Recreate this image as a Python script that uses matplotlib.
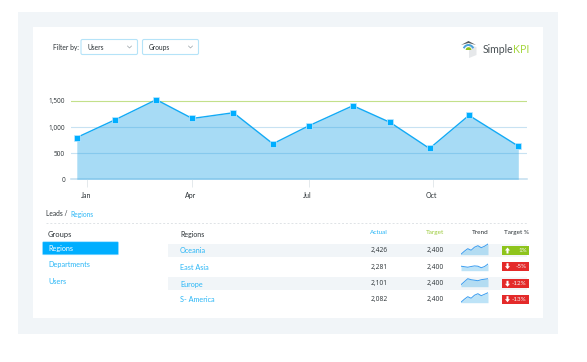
import matplotlib
matplotlib.use('Agg')
import matplotlib.pyplot as plt
from matplotlib.patches import Rectangle, FancyBboxPatch, Polygon, Wedge
from matplotlib.transforms import ScaledTranslation

plt.rcParams['font.family'] = 'Lato'
NUM_FONT = 'Open Sans'

W, H = 587, 362

# main chart, x in days from the Jan tick
days = [-9, 24, 59.5, 90.5, 126, 160, 191, 229, 261, 295, 329, 371.5]
leads = [800, 1140, 1525, 1165, 1275, 680, 1025, 1410, 1090, 590, 1225, 635]
y_ticks = [0, 500, 1000, 1500]
y_labels = ['0', '500', '1,000', '1,500']
month_days = [0, 90.5, 191, 298]
month_names = ['Jan', 'Apr', 'Jul', 'Oct']

# table
groups = ['Regions', 'Departments', 'Users']
regions = ['Oceania', 'East Asia', 'Europe', 'S- America']
actual = ['2,426', '2,281', '2,101', '2,082']
target = ['2,400', '2,400', '2,400', '2,400']
target_pct = ['1%', '-5%', '-12%', '-13%']
trend = [
    [0.5, 3.5, 6, 4.5, 7.5, 9, 7, 8.5, 10.7],
    [4.5, 4, 3.5, 4.2, 4.8, 4.5, 3, 4.2, 6.7],
    [2, 5, 8, 7, 6.5, 6, 7, 7.5, 8],
    [0.5, 3.5, 6, 4.5, 7.5, 9, 7, 8.5, 10],
]

BLUE = '#00aeff'
GREEN_TXT = '#9ccb3b'
DARK = '#2b3236'
row_y = [250.5, 267.5, 284, 299.5]
badge_top = [246, 261.7, 279.3, 294.7]
spark_base = [254.7, 270.7, 286.7, 302.7]
spark_h = 12


def px_axes(x0, y0, x1, y1, **kw):
    return fig.add_axes([x0/W, 1-y1/H, (x1-x0)/W, (y1-y0)/H], **kw)


fig = plt.figure(figsize=(W/100, H/100), dpi=100, facecolor='white')

bg = fig.add_axes([0, 0, 1, 1])
bg.set_xlim(0, W)
bg.set_ylim(H, 0)
bg.axis('off')
bg.add_patch(Rectangle((18, 12), 540, 322, fc='#f1f5f8', ec='none'))
bg.add_patch(Rectangle((33, 27), 510, 291, fc='white', ec='none'))

# filter bar
bg.text(52.7, 47.5, 'Filter by:', fontsize=4.8, color=DARK, va='center')
for x0, x1, name in [(81, 137.5, 'Users'), (142.5, 198.5, 'Groups')]:
    bg.add_patch(FancyBboxPatch((x0, 39.5), x1-x0, 15, boxstyle='round,pad=0,rounding_size=1.5',
                                fc='white', ec='#b5e3f8', lw=0.8))
    bg.text(x0+6, 47.5, name, fontsize=4.8, color=DARK, va='center')
    bg.plot([x1-10, x1-8, x1-6], [46, 48, 46], color='#9aa3a8', lw=0.5)

# logo
bg.add_patch(Polygon([(469, 45), (476.5, 47), (476.5, 55), (469, 58)], fc='#e6e8ea', ec='none'))
bg.add_patch(Polygon([(461, 45), (468.5, 41), (476, 45), (468.5, 43)], fc='#555c60', ec='none'))
bg.add_patch(Wedge((468.5, 50), 6, 200, 340, width=2, fc='#4aa3dc', ec='none'))
bg.add_patch(Wedge((468.5, 50), 2.8, 180, 360, fc='#8ec41c', ec='none'))
bg.text(482.5, 49.5, 'Simple', fontsize=7.6, color='#4a5155', va='center')
bg.text(512.5, 49.5, 'KPI', fontsize=7.6, color='#a5d63f', va='center')

# area chart
ax = px_axes(71, 84, 527, 179.3)
ax.set_xlim(-14, 379)
ax.set_ylim(0, 1825)
ax.patch.set_alpha(0)
for s in ax.spines.values():
    s.set_visible(False)
ax.axhline(1500, color='#c3e08a', lw=0.8, zorder=1)
ax.axhline(1000, color='#c8e2f2', lw=0.8, zorder=1)
ax.axhline(500, color='#c8e2f2', lw=0.8, zorder=1)
ax.axhline(0, color='#c2deef', lw=1.1, zorder=1, clip_on=False)
ax.fill_between(days, leads, 0, color='#25a5e6', alpha=0.4, lw=0, zorder=2)
ax.plot(days, leads, color='#12aaf5', lw=1, marker='s', ms=4.2, mfc=BLUE, mec='#bfe8ff', mew=0.5, zorder=3, clip_on=False)
ax.set_yticks(y_ticks, y_labels, fontsize=4.7, color=DARK, family=NUM_FONT)
ax.set_xticks(month_days, month_names, fontsize=5, color=DARK)
ax.tick_params(axis='y', length=0, pad=4.2)
ax.tick_params(axis='x', length=5.8, width=0.7, color='#e4e9ec', pad=3.6)
# month labels sit a little left of their ticks
for lab in ax.get_xticklabels():
    lab.set_transform(lab.get_transform() + ScaledTranslation(-1.5/100, 0, fig.dpi_scale_trans))

# table header
bg.text(46.5, 214, 'Leads /', fontsize=4.8, color=DARK, va='center')
bg.text(70, 214, 'Regions', fontsize=4.8, color='#29b6f6', va='center')
bg.plot([46, 527], [223.3, 223.3], color='#dfe3e6', lw=0.7, ls=(0, (2, 2)))
bg.text(48, 234.3, 'Groups', fontsize=5.4, color=DARK, va='center')
bg.text(180, 234.3, 'Regions', fontsize=5, color=DARK, va='center')
bg.text(379, 232.7, 'Actual', fontsize=4.6, color='#29b6f6', va='center', ha='center')
bg.text(435, 232.7, 'Target', fontsize=4.6, color=GREEN_TXT, va='center', ha='center')
bg.text(480, 232.7, 'Trend', fontsize=4.6, color=DARK, va='center', ha='center')
bg.text(516, 232.7, 'Target %', fontsize=4.6, color=DARK, va='center', ha='center')

# groups list
bg.add_patch(FancyBboxPatch((42.5, 241.8), 76, 13, boxstyle='round,pad=0,rounding_size=1', fc=BLUE, ec='#9fe0ff', lw=0.4))
group_y = [248.3, 265, 282]
for i, name in enumerate(groups):
    bg.text(48, group_y[i], name, fontsize=5.2, color='white' if i == 0 else '#29b6f6', va='center')

# table rows
for top in [244, 276.7]:
    bg.add_patch(Rectangle((168, top), 359, 13, fc='#f1f5f8', ec='none'))
for i, name in enumerate(regions):
    y = row_y[i]
    bg.text(180, y, name, fontsize=5.2, color='#29b6f6', va='center')
    bg.text(371, y, actual[i], fontsize=4.8, color=DARK, va='center', family=NUM_FONT)
    bg.text(426.7, y-0.5 if i else y, target[i], fontsize=4.8, color=DARK, va='center', family=NUM_FONT)

    up = not target_pct[i].startswith('-')
    top = badge_top[i]
    bg.add_patch(Rectangle((501.7, top), 27.6, 9, fc='#8ec41c' if up else '#e42a2a', ec='none'))
    cx = 507.5
    if up:
        pts = [(cx, top+1.5), (cx+2.5, top+4.5), (cx+1, top+4.5), (cx+1, top+7.5), (cx-1, top+7.5), (cx-1, top+4.5), (cx-2.5, top+4.5)]
    else:
        pts = [(cx, top+7.5), (cx+2.5, top+4.5), (cx+1, top+4.5), (cx+1, top+1.5), (cx-1, top+1.5), (cx-1, top+4.5), (cx-2.5, top+4.5)]
    bg.add_patch(Polygon(pts, fc='white', ec='none'))
    bg.text(526.7, top+4.5, target_pct[i], fontsize=4.5, color='#f4f4f4', va='center', ha='right')

    # sparkline
    sp = px_axes(461, spark_base[i]-spark_h, 488, spark_base[i])
    sp.axis('off')
    vals = trend[i]
    xs = list(range(len(vals)))
    sp.set_xlim(0, len(vals)-1)
    sp.set_ylim(0, spark_h)
    sp.fill_between(xs, vals, 0, color='#25a5e6', alpha=0.3, lw=0)
    sp.plot(xs, vals, color='#3a9df0', lw=0.7)

fig.savefig('out.png', dpi=100)
